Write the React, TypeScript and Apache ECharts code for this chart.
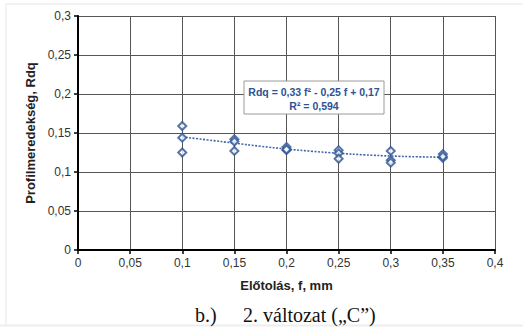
import React, { useEffect, useRef } from "react";
import * as echarts from "echarts";

const xTicks = [0, 0.05, 0.1, 0.15, 0.2, 0.25, 0.3, 0.35, 0.4];
const yTicks = [0, 0.05, 0.1, 0.15, 0.2, 0.25, 0.3];
const feedValues = [0.1, 0.1, 0.1, 0.15, 0.15, 0.15, 0.2, 0.2, 0.2, 0.25, 0.25, 0.25, 0.3, 0.3, 0.3, 0.35, 0.35, 0.35];
const rdqValues = [0.159, 0.144, 0.125, 0.142, 0.139, 0.127, 0.132, 0.128, 0.129, 0.128, 0.124, 0.117, 0.127, 0.115, 0.112, 0.123, 0.118, 0.12];
const trendX = [0.1, 0.125, 0.15, 0.175, 0.2, 0.225, 0.25, 0.275, 0.3, 0.325, 0.35];
const trendY = [0.145, 0.141, 0.137, 0.133, 0.1295, 0.1265, 0.124, 0.122, 0.1205, 0.1195, 0.119];
const equationLines = ["Rdq = 0,33 f² - 0,25 f + 0,17", "R² = 0,594"];
const xAxisTitle = "Előtolás, f, mm";
const yAxisTitle = "Profilmeredekség, Rdq";
const captionLabel = "b.)";
const captionText = "2. változat („C”)";

const fmt = (v: number) => (v === 0 ? "0" : String(+v.toFixed(2)).replace(".", ","));

export default function App() {
  const ref = useRef<HTMLDivElement>(null);
  useEffect(() => {
    document.body.style.margin = "0";
    const chart = echarts.init(ref.current!, null, { renderer: "svg" });
    const blue = "#2D5394";
    const axisFont = "Liberation Sans, Arial, sans-serif";
    chart.setOption({
      animation: false,
      backgroundColor: "#ffffff",
      grid: { left: 78, right: 28, top: 16, bottom: 77, containLabel: false },
      xAxis: {
        type: "value",
        min: 0,
        max: 0.4,
        interval: 0.05,
        axisLine: { show: true, onZero: false, lineStyle: { color: "#000", width: 2 } },
        axisTick: { show: true, inside: false, length: 4, lineStyle: { color: "#000", width: 1.5 } },
        axisLabel: {
          formatter: (v: number) => fmt(v),
          color: "#333",
          fontFamily: axisFont,
          fontSize: 12,
          margin: 7,
        },
        splitLine: { show: true, lineStyle: { color: "#555", width: 1 } },
        name: xAxisTitle,
        nameLocation: "middle",
        nameGap: 29,
        nameTextStyle: { fontFamily: axisFont, fontWeight: "bold", fontSize: 13, color: "#222" },
      },
      yAxis: {
        type: "value",
        min: 0,
        max: 0.3,
        interval: 0.05,
        axisLine: { show: true, onZero: false, lineStyle: { color: "#000", width: 2 } },
        axisTick: { show: true, inside: false, length: 4, lineStyle: { color: "#000", width: 1.5 } },
        axisLabel: {
          formatter: (v: number) => fmt(v),
          color: "#333",
          fontFamily: axisFont,
          fontSize: 12,
          margin: 7,
        },
        splitLine: { show: true, lineStyle: { color: "#555", width: 1 } },
        name: yAxisTitle,
        nameLocation: "middle",
        nameGap: 41,
        nameRotate: 90,
        nameTextStyle: { fontFamily: axisFont, fontWeight: "bold", fontSize: 13, color: "#222" },
      },
      series: [
        {
          type: "line",
          data: trendX.map((x, i) => [x, trendY[i]]),
          smooth: true,
          showSymbol: false,
          symbol: "none",
          lineStyle: { color: "#3F66A8", width: 1.6, type: [2, 1.5] },
          z: 2,
        },
        {
          type: "scatter",
          data: feedValues.map((x, i) => [x, rdqValues[i]]),
          symbol: "diamond",
          symbolSize: 8,
          itemStyle: { color: "#ffffff", borderColor: blue, borderWidth: 2 },
          z: 3,
        },
      ],
      graphic: [
        { type: "line", shape: { x1: 6, y1: 4, x2: 523, y2: 4 }, style: { stroke: "#eeeeee", lineWidth: 1.5 } },
        { type: "line", shape: { x1: 6, y1: 4, x2: 6, y2: 325 }, style: { stroke: "#eeeeee", lineWidth: 1.5 } },
        { type: "line", shape: { x1: 0, y1: 325.5, x2: 523, y2: 325.5 }, style: { stroke: "#eeeeee", lineWidth: 2 } },
        {
          type: "rect",
          shape: { x: 244, y: 81, width: 140, height: 33 },
          style: { fill: "#ffffff", stroke: "#9a9a9a", lineWidth: 1 },
          z: 10,
        },
        {
          type: "text",
          x: 314,
          y: 91.5,
          style: {
            text: equationLines[0],
            fill: blue,
            font: "bold 10.5px 'Liberation Sans', Arial, sans-serif",
            align: "center",
            verticalAlign: "middle",
          },
          z: 11,
        },
        {
          type: "text",
          x: 314,
          y: 105.5,
          style: {
            text: equationLines[1],
            fill: blue,
            font: "bold 10.5px 'Liberation Sans', Arial, sans-serif",
            align: "center",
            verticalAlign: "middle",
          },
          z: 11,
        },
        {
          type: "text",
          x: 195,
          y: 315,
          style: {
            text: captionLabel,
            fill: "#111",
            font: "20px 'Liberation Serif', 'Times New Roman', serif",
            align: "left",
            verticalAlign: "middle",
          },
          z: 11,
        },
        {
          type: "text",
          x: 243,
          y: 315,
          style: {
            text: captionText,
            fill: "#111",
            font: "20px 'Liberation Serif', 'Times New Roman', serif",
            align: "left",
            verticalAlign: "middle",
          },
          z: 11,
        },
      ],
    });
    return () => chart.dispose();
  }, []);
  return <div ref={ref} style={{ width: 523, height: 327, position: "absolute", left: 0, top: 0 }} />;
}
